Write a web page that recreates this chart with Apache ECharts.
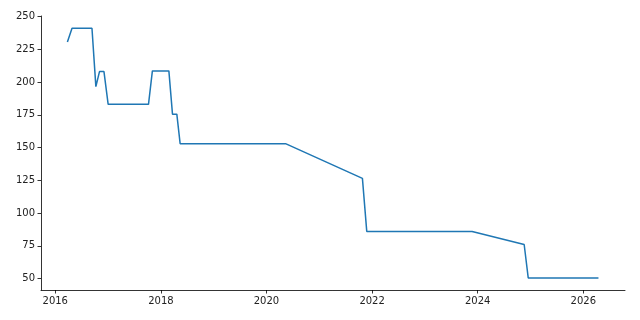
<!DOCTYPE html>
<html><head><meta charset="utf-8">
<script src="https://cdn.jsdelivr.net/npm/echarts@6/dist/echarts.min.js"></script>
<style>html,body{margin:0;padding:0;background:#fff}#c{width:640px;height:320px}</style>
</head><body><div id="c"></div>
<script>
const dates = ['2016-03-25','2016-04-26','2016-09-11','2016-10-08','2016-11-02','2016-12-03','2017-01-01','2017-10-07','2017-11-03','2018-02-25','2018-03-22','2018-04-21','2018-05-14','2020-05-12','2021-10-26','2021-11-25','2023-11-24','2024-11-18','2024-12-16','2026-04-16'];
const values = [230.5,241,241,196.5,208,208,183,183,208.5,208.5,175.5,175.5,153,153,126.5,86,86,76,50.5,50.5];
const xTickYears = [2016,2018,2020,2022,2024,2026];
const yTicks = [50,75,100,125,150,175,200,225,250];

function ts(s){const p=s.split('-').map(Number);return Date.UTC(p[0],p[1]-1,p[2]);}
const xTicks = xTickYears.map(y=>Date.UTC(y,0,1));
const yearMs = 365.25*864e5;
const xMin = Date.UTC(2016,0,1) - 0.27*yearMs;
const xMax = Date.UTC(2026,0,1) + 0.79*yearMs;

const chart = echarts.init(document.getElementById('c'), null, {renderer:'canvas'});
const font = {fontFamily:'DejaVu Sans', fontSize:10, color:'#222'};
chart.setOption({
  animation:false,
  backgroundColor:'#fff',
  grid:{left:41,right:15,top:16,bottom:30,containLabel:false},
  xAxis:{type:'value',min:xMin,max:xMax,
    axisLine:{show:true,lineStyle:{color:'#000',width:0.8}},
    axisTick:{show:true,length:3.5,lineStyle:{color:'#000',width:0.8},customValues:xTicks},
    axisLabel:Object.assign({margin:6,customValues:xTicks,formatter:v=>String(new Date(v).getUTCFullYear())},font),
    splitLine:{show:false}},
  yAxis:{type:'value',min:41.3,max:250.4,
    axisLine:{show:true,lineStyle:{color:'#000',width:0.8}},
    axisTick:{show:true,length:3.5,lineStyle:{color:'#000',width:0.8},customValues:yTicks},
    axisLabel:Object.assign({margin:6,customValues:yTicks},font),
    splitLine:{show:false}},
  series:[{type:'line',data:dates.map((d,i)=>[ts(d),values[i]]),showSymbol:false,
    lineStyle:{color:'#1f77b4',width:1.5},itemStyle:{color:'#1f77b4'}}]
});
</script></body></html>
